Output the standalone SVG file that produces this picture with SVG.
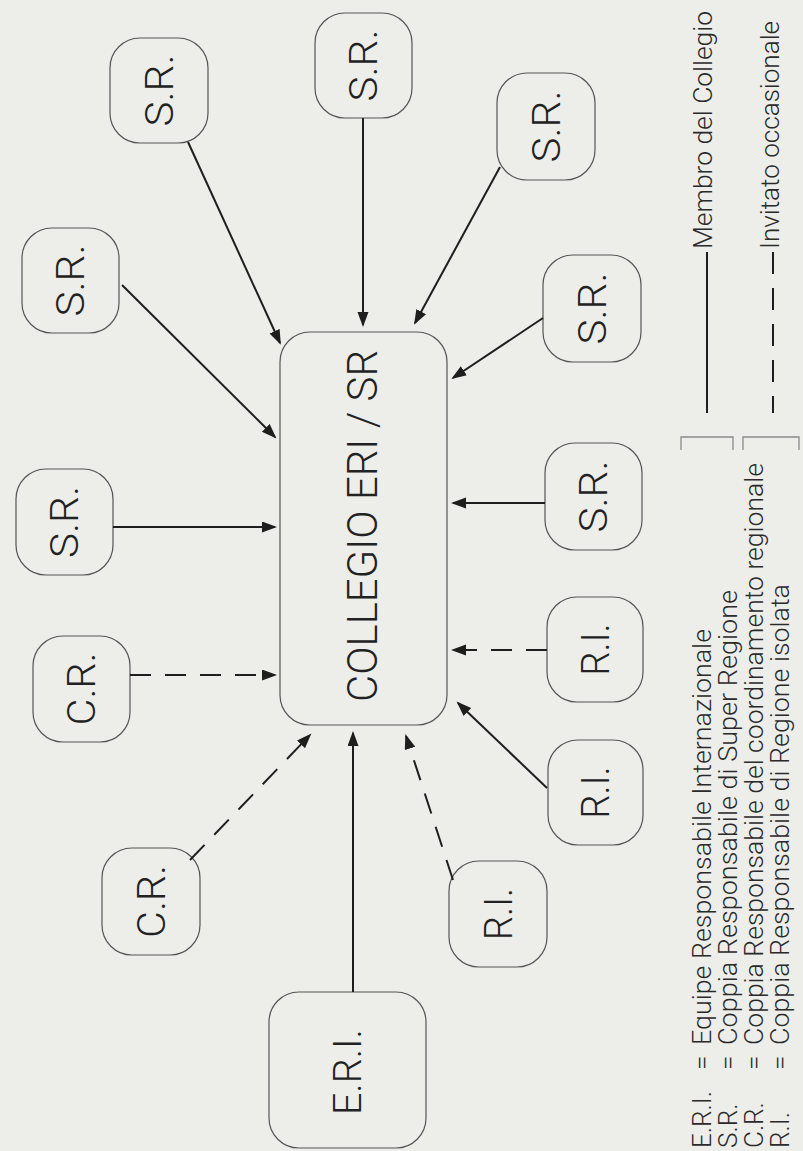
<svg xmlns="http://www.w3.org/2000/svg" width="803" height="1151" viewBox="0 0 803 1151">
<defs>
<marker id="ah" markerUnits="userSpaceOnUse" markerWidth="16" markerHeight="12" refX="13" refY="5.5" orient="auto">
<path d="M0,0 L15,5.5 L0,11 z" fill="#1e1e1e"/>
</marker>
<style>
.node{fill:none;stroke:#555;stroke-width:1.2}
.lbl{font-family:Roboto,"Liberation Sans",Arial,sans-serif;font-weight:300;font-size:38px;fill:#222;text-anchor:middle}
.big{font-family:Roboto,"Liberation Sans",Arial,sans-serif;font-weight:300;font-size:42px;fill:#222;text-anchor:middle}
.leg{font-family:Roboto,"Liberation Sans",Arial,sans-serif;font-weight:300;font-size:26px;fill:#2a2a2a}
.c{stroke:#1e1e1e;stroke-width:2;fill:none;marker-end:url(#ah)}
.d{stroke-dasharray:21 14}
.br{stroke:#8a8a8a;stroke-width:1.3;fill:none}
</style>
</defs>
<rect x="0" y="0" width="803" height="1151" fill="#edeeea"/>

<g id="collegio">
<rect class="node" x="280" y="332" width="167" height="393" rx="30"/>
<text class="big" transform="translate(377,526) rotate(-90)" textLength="352" lengthAdjust="spacingAndGlyphs">COLLEGIO ERI / SR</text>
</g>

<g id="sr1"><rect class="node" x="110" y="38" width="98" height="105" rx="30"/><text class="lbl" transform="translate(172.5,90.5) rotate(-90)" textLength="72" lengthAdjust="spacingAndGlyphs">S.R.</text></g>
<g id="sr2"><rect class="node" x="315" y="13" width="97" height="105" rx="30"/><text class="lbl" transform="translate(377,65.5) rotate(-90)" textLength="72" lengthAdjust="spacingAndGlyphs">S.R.</text></g>
<g id="sr3"><rect class="node" x="22" y="228" width="97" height="105" rx="30"/><text class="lbl" transform="translate(84,280.5) rotate(-90)" textLength="72" lengthAdjust="spacingAndGlyphs">S.R.</text></g>
<g id="sr4"><rect class="node" x="497" y="73" width="98" height="107" rx="30"/><text class="lbl" transform="translate(559.5,126.5) rotate(-90)" textLength="72" lengthAdjust="spacingAndGlyphs">S.R.</text></g>
<g id="sr5"><rect class="node" x="543" y="255" width="98" height="107" rx="30"/><text class="lbl" transform="translate(605.5,308.5) rotate(-90)" textLength="72" lengthAdjust="spacingAndGlyphs">S.R.</text></g>
<g id="sr6"><rect class="node" x="16" y="469" width="97" height="106" rx="30"/><text class="lbl" transform="translate(78,522) rotate(-90)" textLength="72" lengthAdjust="spacingAndGlyphs">S.R.</text></g>
<g id="cr1"><rect class="node" x="33" y="636" width="97" height="106" rx="30"/><text class="lbl" transform="translate(95,689) rotate(-90)" textLength="73" lengthAdjust="spacingAndGlyphs">C.R.</text></g>
<g id="sr7"><rect class="node" x="545" y="443" width="97" height="107" rx="30"/><text class="lbl" transform="translate(607,496.5) rotate(-90)" textLength="72" lengthAdjust="spacingAndGlyphs">S.R.</text></g>
<g id="ri1"><rect class="node" x="547" y="597" width="96" height="105" rx="30"/><text class="lbl" transform="translate(608.5,649.5) rotate(-90)" textLength="52" lengthAdjust="spacingAndGlyphs">R.I.</text></g>
<g id="ri2"><rect class="node" x="548" y="740" width="95" height="105" rx="30"/><text class="lbl" transform="translate(609,792.5) rotate(-90)" textLength="52" lengthAdjust="spacingAndGlyphs">R.I.</text></g>
<g id="ri3"><rect class="node" x="449" y="861" width="98" height="106" rx="30"/><text class="lbl" transform="translate(511.5,914) rotate(-90)" textLength="52" lengthAdjust="spacingAndGlyphs">R.I.</text></g>
<g id="cr2"><rect class="node" x="102" y="848" width="98" height="107" rx="30"/><text class="lbl" transform="translate(164.5,901.5) rotate(-90)" textLength="73" lengthAdjust="spacingAndGlyphs">C.R.</text></g>
<g id="eri"><rect class="node" x="269" y="992" width="157" height="156" rx="30"/><text class="lbl" transform="translate(361,1072) rotate(-90)" textLength="86" lengthAdjust="spacingAndGlyphs">E.R.I.</text></g>

<g id="connectors">
<line class="c" x1="188" y1="142" x2="280" y2="343"/>
<line class="c" x1="363" y1="118" x2="363" y2="325"/>
<line class="c" x1="122" y1="285" x2="275" y2="437"/>
<line class="c" x1="500" y1="167" x2="415" y2="323"/>
<line class="c" x1="543" y1="318" x2="453" y2="378"/>
<line class="c" x1="113" y1="527" x2="275" y2="527"/>
<line class="c d" x1="130" y1="675" x2="275" y2="675"/>
<line class="c d" x1="190" y1="860" x2="310" y2="735"/>
<line class="c" x1="353" y1="992" x2="353" y2="733"/>
<line class="c d" x1="453" y1="880" x2="406" y2="736"/>
<line class="c" x1="547" y1="788" x2="458" y2="703"/>
<line class="c d" x1="547" y1="650" x2="453" y2="650"/>
<line class="c" x1="545" y1="503" x2="453" y2="503"/>
</g>

<g id="legend">
<line x1="707" y1="252" x2="707" y2="413" stroke="#1e1e1e" stroke-width="2"/>
<line x1="773" y1="252" x2="773" y2="413" stroke="#1e1e1e" stroke-width="2" stroke-dasharray="22 14"/>
<text class="leg" transform="translate(712,249) rotate(-90)" textLength="238" lengthAdjust="spacingAndGlyphs">Membro del Collegio</text>
<text class="leg" transform="translate(779,249) rotate(-90)" textLength="228" lengthAdjust="spacingAndGlyphs">Invitato occasionale</text>
<path class="br" d="M681,450 V437 H733 V450"/>
<path class="br" d="M743,450 V437 H799 V450"/>
<g transform="translate(711,1148) rotate(-90)"><text class="leg" x="0" y="0">E.R.I.</text><text class="leg" x="78" y="0">=</text><text class="leg" x="103" y="0" textLength="416" lengthAdjust="spacingAndGlyphs">Equipe Responsabile Internazionale</text></g>
<g transform="translate(737,1148) rotate(-90)"><text class="leg" x="0" y="0">S.R.</text><text class="leg" x="78" y="0">=</text><text class="leg" x="103" y="0" textLength="455" lengthAdjust="spacingAndGlyphs">Coppia Responsabile di Super Regione</text></g>
<g transform="translate(763,1148) rotate(-90)"><text class="leg" x="0" y="0">C.R.</text><text class="leg" x="78" y="0">=</text><text class="leg" x="103" y="0" textLength="582" lengthAdjust="spacingAndGlyphs">Coppia Responsabile del coordinamento regionale</text></g>
<g transform="translate(789,1148) rotate(-90)"><text class="leg" x="0" y="0">R.I.</text><text class="leg" x="78" y="0">=</text><text class="leg" x="103" y="0" textLength="461" lengthAdjust="spacingAndGlyphs">Coppia Responsabile di Regione isolata</text></g>
</g>
</svg>
